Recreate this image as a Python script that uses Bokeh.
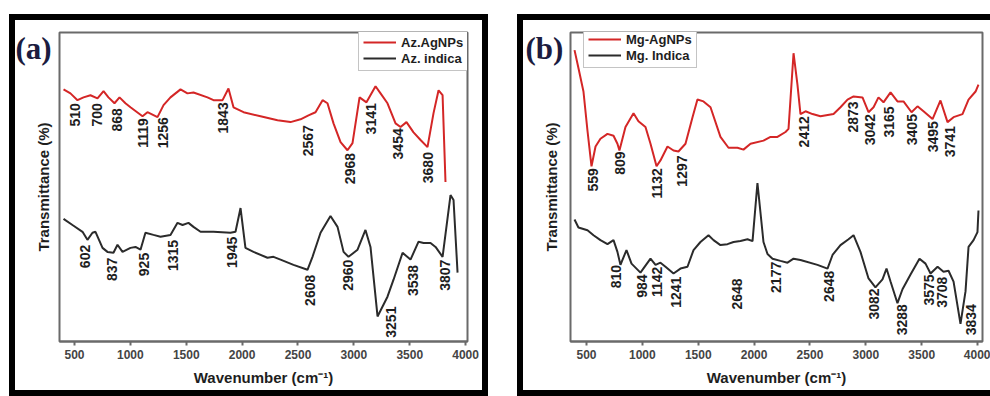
import math
from bokeh.plotting import figure
from bokeh.models import Legend, LegendItem, Label, FixedTicker, Range1d
from bokeh.layouts import row
from bokeh.embed import file_html
from bokeh.resources import INLINE
from bokeh.core.properties import value

# ---------------- data ----------------
x_ticks = [500, 1000, 1500, 2000, 2500, 3000, 3500, 4000]

# Panel (a)
a_tag = "(a)"
a_names = ["Az.AgNPs", "Az. indica"]
a_np_wn = [402, 464, 527, 581, 643, 706, 760, 804, 858, 903, 956, 1001, 1109, 1153, 1243,
           1297, 1359, 1449, 1511, 1565, 1690, 1744, 1825, 1878, 1923, 2013, 2165, 2317, 2433,
           2523, 2594, 2657, 2720, 2764, 2818, 2881, 2943, 2988, 3051, 3113, 3194, 3239, 3301,
           3373, 3418, 3471, 3534, 3597, 3659, 3713, 3758, 3794, 3820]
a_np_t = [81.6, 80.3, 78.1, 79.0, 79.7, 78.7, 81.0, 79.0, 77.1, 79.0, 77.1, 75.8, 72.9, 74.2, 72.6,
          76.5, 79.0, 81.6, 80.3, 80.6, 79.0, 78.1, 78.1, 81.9, 75.8, 74.2, 72.9, 71.6, 71.0,
          71.9, 73.2, 74.2, 78.1, 77.1, 70.6, 64.5, 61.9, 64.2, 79.0, 77.4, 82.6, 80.3, 77.1,
          70.6, 69.4, 71.0, 67.7, 65.2, 62.9, 73.9, 81.3, 79.7, 51.6]
a_pl_wn = [402, 482, 572, 616, 661, 688, 751, 795, 849, 885, 930, 1001, 1046, 1091, 1135,
           1207, 1270, 1359, 1422, 1467, 1520, 1565, 1628, 1744, 1896, 1941, 1986, 2030, 2102,
           2227, 2281, 2344, 2460, 2585, 2630, 2702, 2791, 2854, 2908, 2952, 3033, 3104, 3149,
           3212, 3301, 3355, 3436, 3507, 3579, 3624, 3686, 3731, 3794, 3865, 3892, 3928]
a_pl_t = [39.7, 37.7, 35.5, 32.9, 35.2, 35.5, 30.3, 29.0, 28.7, 31.3, 29.0, 30.3, 30.6, 29.7, 35.2,
          34.5, 33.9, 34.5, 38.4, 37.7, 38.4, 37.1, 35.5, 35.5, 35.2, 35.5, 43.2, 30.3, 29.0,
          27.1, 27.4, 26.5, 24.8, 23.2, 27.4, 35.2, 40.6, 37.1, 29.0, 27.4, 29.7, 36.1, 30.6,
          8.1, 14.5, 20.0, 28.7, 26.5, 32.3, 31.9, 31.9, 30.6, 27.4, 47.4, 45.8, 22.3]
a_np_lbl = ["510", "700", "868", "1119", "1256", "1843", "2567", "2968", "3141", "3454", "3680"]
a_np_lbl_wn = [509, 706, 885, 1109, 1288, 1825, 2594, 2970, 3149, 3391, 3668]
a_np_lbl_t = [77.1, 77.1, 75.5, 72.3, 72.6, 77.4, 70.0, 61.0, 77.1, 69.0, 61.3]
a_pl_lbl = ["602", "837", "925", "1315", "1945", "2608", "2960", "3251", "3538", "3807"]
a_pl_lbl_wn = [598, 840, 1118, 1386, 1914, 2612, 2952, 3328, 3525, 3820]
a_pl_lbl_t = [31.3, 27.1, 28.7, 32.9, 33.9, 21.6, 26.5, 11.3, 24.8, 26.5]

# Panel (b)
b_tag = "(b)"
b_names = ["Mg-AgNPs", "Mg. Indica"]
b_np_wn = [393, 428, 473, 509, 545, 581, 625, 688, 742, 777, 795, 849, 921, 965, 1028,
           1073, 1127, 1162, 1225, 1279, 1323, 1386, 1449, 1493, 1547, 1610, 1699, 1771, 1851,
           1905, 1968, 2084, 2147, 2209, 2281, 2308, 2353, 2388, 2415, 2460, 2523, 2594, 2711,
           2773, 2836, 2890, 2970, 3024, 3069, 3113, 3158, 3221, 3283, 3337, 3409, 3462, 3516,
           3597, 3668, 3731, 3785, 3865, 3919, 3982, 4008]
b_np_t = [94.3, 88.5, 80.9, 68.2, 56.7, 63.1, 65.6, 67.2, 66.6, 64.0, 61.8, 69.4, 73.9, 71.3, 69.4,
          64.0, 56.7, 58.6, 63.1, 61.8, 61.5, 64.0, 72.6, 78.3, 77.7, 75.8, 66.2, 62.7, 62.7,
          62.1, 64.0, 65.0, 66.2, 66.2, 67.8, 68.8, 93.3, 83.1, 73.6, 74.5, 73.6, 72.9, 73.6,
          75.8, 78.3, 79.3, 79.0, 74.2, 75.8, 79.0, 77.4, 80.6, 77.7, 77.7, 74.2, 76.1, 74.5,
          72.0, 78.0, 71.0, 72.6, 73.6, 78.3, 80.9, 83.1]
b_pl_wn = [393, 428, 509, 563, 625, 688, 742, 777, 804, 858, 903, 983, 1073, 1118, 1162,
           1207, 1279, 1341, 1404, 1458, 1520, 1592, 1637, 1699, 1762, 1816, 1878, 1941, 1986,
           2030, 2084, 2120, 2165, 2236, 2299, 2353, 2415, 2567, 2657, 2702, 2773, 2845, 2890,
           2952, 3024, 3086, 3149, 3185, 3221, 3283, 3328, 3400, 3480, 3534, 3579, 3642, 3695,
           3740, 3785, 3847, 3892, 3919, 3964, 3999, 4008]
b_pl_t = [39.5, 36.9, 36.0, 34.4, 32.8, 31.5, 32.8, 29.0, 24.8, 29.6, 25.2, 22.3, 26.8, 24.8, 25.5,
          24.2, 22.0, 23.6, 24.2, 29.6, 32.2, 34.4, 32.8, 31.2, 31.5, 32.2, 32.5, 33.1, 32.5,
          51.3, 32.2, 28.3, 26.8, 26.1, 25.5, 26.8, 26.4, 24.8, 23.6, 28.0, 31.2, 33.1, 34.4,
          29.0, 20.4, 17.5, 20.1, 23.6, 19.4, 12.4, 16.9, 21.7, 26.8, 25.2, 22.0, 24.2, 22.6,
          22.9, 19.4, 5.7, 16.2, 30.6, 32.8, 35.4, 42.4]
b_np_lbl = ["559", "809", "1132", "1297", "2412", "2873", "3042", "3165", "3405", "3495", "3741"]
b_np_lbl_wn = [554, 804, 1135, 1359, 2451, 2881, 3033, 3203, 3409, 3597, 3749]
b_np_lbl_t = [56.1, 61.5, 56.1, 60.2, 72.9, 77.7, 73.6, 76.1, 73.6, 71.3, 69.7]
b_pl_lbl = ["810", "984", "1142", "1241", "2648", "2177", "2648", "3082", "3288", "3575", "3708", "3834"]
b_pl_lbl_wn = [760, 1001, 1135, 1297, 1851, 2200, 2666, 3069, 3328, 3561, 3686, 3937]
b_pl_lbl_t = [24.8, 21.7, 24.2, 21.0, 20.4, 25.8, 22.9, 17.2, 12.1, 21.7, 21.0, 12.1]

# ---------------- styling ----------------
SANS = "Liberation Sans"
SERIF = "Liberation Serif"
RED = "#d42626"
DARK = "#2b2b2b"
FRAME = "#6a6a6a"
TXT = "#1e1e1e"
Y_LO, Y_HI = 0, 100
PANEL_H = 382
TAG_W = 46


def make_panel(xr, w, h, mb, leg_xy, ylab_standoff, css, names,
               np_wn, np_t, pl_wn, pl_t, np_lbl, np_lx, np_ly, pl_lbl, pl_lx, pl_ly):
    p = figure(width=w, height=h, x_range=Range1d(*xr), y_range=Range1d(Y_LO, Y_HI),
               output_backend="svg", toolbar_location=None,
               min_border_left=mb[0], min_border_right=mb[1],
               min_border_top=mb[2], min_border_bottom=mb[3])
    p.styles = css
    p.grid.visible = False
    p.outline_line_color = FRAME
    p.outline_line_width = 2
    p.background_fill_color = "white"
    p.border_fill_color = "white"
    p.border_fill_alpha = 0.0

    r1 = p.line(np_wn, np_t, line_color=RED, line_width=2)
    r2 = p.line(pl_wn, pl_t, line_color=DARK, line_width=2)
    for lbl, lx, ly in ((np_lbl, np_lx, np_ly), (pl_lbl, pl_lx, pl_ly)):
        p.text(x=lx, y=ly, text=lbl, angle=math.pi / 2, text_align="right",
               text_baseline="middle", text_font=value(SANS), text_font_style="bold",
               text_font_size="14px", text_color=TXT)

    xa = p.xaxis[0]
    xa.ticker = FixedTicker(ticks=x_ticks)
    xa.axis_label = "Wavenumber (cm⁻¹)"
    xa.axis_label_text_font = SANS
    xa.axis_label_text_font_style = "bold"
    xa.axis_label_text_font_size = "15px"
    xa.axis_label_text_color = TXT
    xa.axis_label_standoff = 7
    xa.axis_line_color = FRAME
    xa.axis_line_width = 2
    xa.major_tick_line_color = FRAME
    xa.major_tick_line_width = 2
    xa.major_tick_out = 4
    xa.major_tick_in = 0
    xa.minor_tick_line_color = None
    xa.major_label_standoff = 4
    xa.major_label_text_font = SANS
    xa.major_label_text_font_style = "bold"
    xa.major_label_text_font_size = "12px"
    xa.major_label_text_color = "#444444"

    ya = p.yaxis[0]
    ya.ticker = FixedTicker(ticks=[])
    ya.major_label_text_font_size = "0px"
    ya.major_tick_line_color = None
    ya.minor_tick_line_color = None
    ya.axis_line_color = None
    ya.major_tick_out = 0
    ya.axis_label = "Transmittance (%)"
    ya.axis_label_text_font = SANS
    ya.axis_label_text_font_style = "bold"
    ya.axis_label_text_font_size = "15px"
    ya.axis_label_text_color = TXT
    ya.axis_label_standoff = ylab_standoff

    leg = Legend(items=[LegendItem(label=names[0], renderers=[r1]),
                        LegendItem(label=names[1], renderers=[r2])],
                 location=leg_xy, margin=0, padding=4, spacing=0,
                 glyph_width=33, glyph_height=16, label_height=16, label_standoff=5,
                 label_text_font=SANS, label_text_font_style="bold",
                 label_text_font_size="13px", label_text_color=TXT,
                 border_line_color="#8a8a8a", border_line_width=1,
                 background_fill_color="white", background_fill_alpha=1.0)
    p.add_layout(leg)
    return p


def make_tag(text):
    # transparent strip as tall as a panel, carrying the panel letter; overlaid on the panel corner.
    # Its ranges are in pixels (y counted down from the top) so the letter sits at a known spot.
    t = figure(width=TAG_W, height=PANEL_H, title=None,
               x_range=Range1d(0, TAG_W), y_range=Range1d(PANEL_H, 0),
               output_backend="svg", toolbar_location=None, min_border=0,
               x_axis_type=None, y_axis_type=None)
    t.grid.visible = False
    t.outline_line_color = None
    t.background_fill_alpha = 0.0
    t.border_fill_alpha = 0.0
    t.add_layout(Label(x=3, y=19.5, x_units="data", y_units="data", text=text,
                       text_font=SERIF, text_font_style="bold", text_font_size="31px",
                       text_color="#1c1c40", text_align="left", text_baseline="middle"))
    return t


pa = make_panel((366, 4017), 479, PANEL_H, (50, 21, 18, 54), (299, 270), 8,
                {"box-shadow": "inset 0 0 0 6px #000000"}, a_names,
                a_np_wn, a_np_t, a_pl_wn, a_pl_t,
                a_np_lbl, a_np_lbl_wn, a_np_lbl_t, a_pl_lbl, a_pl_lbl_wn, a_pl_lbl_t)
pb = make_panel((357, 4044), 473, PANEL_H, (53, 8, 13, 55), (13, 273), 11,
                {"box-shadow": "inset 6px 0 0 0 #000000, inset 0 6px 0 0 #000000, inset 0 -6px 0 0 #000000"},
                b_names,
                b_np_wn, b_np_t, b_pl_wn, b_pl_t,
                b_np_lbl, b_np_lbl_wn, b_np_lbl_t, b_pl_lbl, b_pl_lbl_wn, b_pl_lbl_t)
ta = make_tag(a_tag)
tb = make_tag(b_tag)

# page positions: pa 9..488, ta 12..58, pb 517..990, tb 522..568
pa.margin = (14, 0, 0, 9)
ta.margin = (14, 459, 0, -476)
pb.margin = (14, 0, 0, 0)
tb.margin = (14, 0, 0, -468)

layout = row(pa, ta, pb, tb, spacing=0)

open("out.html", "w").write(file_html(layout, INLINE))
